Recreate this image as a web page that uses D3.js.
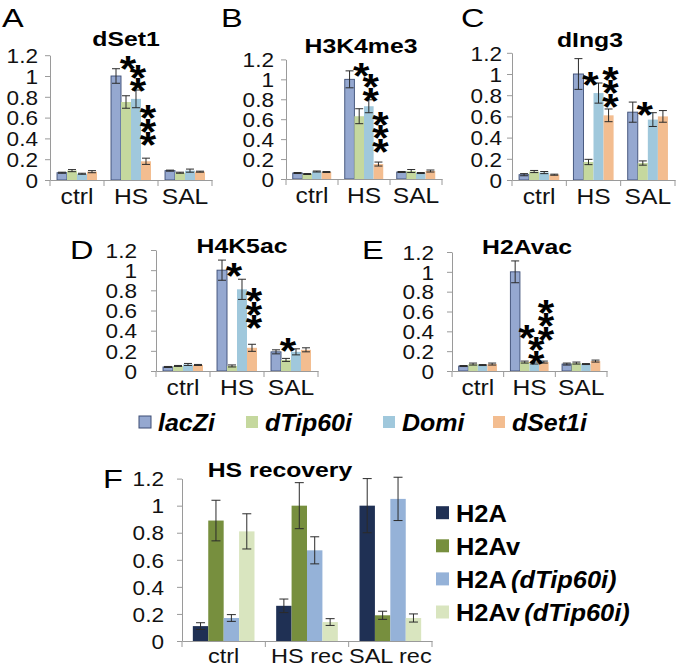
<!DOCTYPE html>
<html><head><meta charset="utf-8">
<script src="https://cdn.jsdelivr.net/npm/d3@7/dist/d3.min.js"></script>
<style>body{margin:0;background:#fff}</style>
</head><body>
<svg id="chart" width="680" height="668"></svg>
<script>
// ---------------- DATA ----------------
const categories = ["ctrl", "HS", "SAL"];
const seriesNames = ["lacZi", "dTip60i", "Domi", "dSet1i"];
const yTickValues = [0, 0.2, 0.4, 0.6, 0.8, 1, 1.2];

// values[category][series]
const dSet1Values = [[0.07, 0.09, 0.06, 0.08], [1.0, 0.75, 0.78, 0.18], [0.09, 0.07, 0.09, 0.08]];
const dSet1Errors = [[0.005, 0.01, 0.005, 0.01], [0.07, 0.06, 0.085, 0.03], [0.005, 0.005, 0.015, 0.005]];
const dSet1Stars = [
  { cat: "HS", series: "dTip60i", count: 1, top: 1.14 },
  { cat: "HS", series: "Domi", count: 2, top: 1.06 },
  { cat: "HS", series: "dSet1i", count: 3, top: 0.67 }
];

const h3k4Values = [[0.06, 0.05, 0.075, 0.07], [1.0, 0.63, 0.73, 0.15], [0.07, 0.08, 0.06, 0.08]];
const h3k4Errors = [[0.005, 0.005, 0.005, 0.005], [0.085, 0.075, 0.065, 0.02], [0.005, 0.015, 0.005, 0.01]];
const h3k4Stars = [
  { cat: "HS", series: "dTip60i", count: 1, top: 1.11 },
  { cat: "HS", series: "Domi", count: 2, top: 1.0 },
  { cat: "HS", series: "dSet1i", count: 3, top: 0.625 }
];

const dIng3Values = [[0.05, 0.08, 0.07, 0.05], [1.0, 0.17, 0.82, 0.61], [0.64, 0.16, 0.57, 0.60]];
const dIng3Errors = [[0.01, 0.01, 0.01, 0.005], [0.145, 0.025, 0.095, 0.06], [0.095, 0.02, 0.065, 0.055]];
const dIng3Stars = [
  { cat: "HS", series: "dTip60i", count: 1, top: 0.97 },
  { cat: "HS", series: "dSet1i", count: 3, top: 1.02 },
  { cat: "SAL", series: "dTip60i", count: 1, top: 0.686 }
];

const h4k5Values = [[0.04, 0.05, 0.065, 0.06], [1.0, 0.05, 0.81, 0.23], [0.19, 0.11, 0.19, 0.21]];
const h4k5Errors = [[0.005, 0.005, 0.01, 0.005], [0.1, 0.01, 0.1, 0.035], [0.02, 0.015, 0.03, 0.02]];
const h4k5Stars = [
  { cat: "HS", series: "dTip60i", count: 1, top: 1.02 },
  { cat: "HS", series: "dSet1i", count: 3, top: 0.77 },
  { cat: "SAL", series: "dTip60i", count: 1, top: 0.275 }
];

const h2avacValues = [[0.05, 0.07, 0.06, 0.07], [1.0, 0.09, 0.08, 0.09], [0.07, 0.08, 0.07, 0.10]];
const h2avacErrors = [[0.005, 0.01, 0.005, 0.01], [0.11, 0.01, 0.01, 0.01], [0.01, 0.01, 0.005, 0.01]];
const h2avacStars = [
  { cat: "HS", series: "dTip60i", count: 1, top: 0.41 },
  { cat: "HS", series: "Domi", count: 2, top: 0.29 },
  { cat: "HS", series: "dSet1i", count: 3, top: 0.67 }
];

const recoveryCategories = ["ctrl", "HS rec", "SAL rec"];
const recoverySeries = ["H2A", "H2Av", "H2A (dTip60i)", "H2Av (dTip60i)"];
// values[category][series]
const recoveryValues = [[0.11, 0.89, 0.17, 0.81], [0.26, 1.0, 0.67, 0.14], [1.0, 0.19, 1.05, 0.17]];
const recoveryErrors = [[0.025, 0.15, 0.025, 0.13], [0.05, 0.17, 0.1, 0.025], [0.2, 0.03, 0.16, 0.03]];

// ---------------- STYLE / LAYOUT ----------------
const FONT = "'Liberation Sans', Arial, Helvetica, sans-serif";
const topColors = ["#95a8d0", "#c5d89e", "#a0c8dc", "#f3bd90"];
const recColors = ["#1f3054", "#778f3e", "#95b2d8", "#d9e5bf"];
const svg = d3.select("#chart");

function addText(parent, x, y, str, o) {
  return parent.append("text")
    .attr("transform", `translate(${x},${y}) scale(${o.sx || 1},1)`)
    .attr("text-anchor", o.anchor || "start")
    .style("font-family", FONT)
    .style("font-size", o.size + "px")
    .style("font-weight", o.weight || "normal")
    .style("font-style", o.style || "normal")
    .attr("fill", o.fill || "#111")
    .text(str);
}

function drawPanel(p) {
  const g = svg.append("g");
  const y = d3.scaleLinear().domain([0, 1.2]).range([p.yBot, p.yTop]);
  const x0 = d3.scaleBand().domain(p.cats).range([p.xL, p.xR]).padding(0);
  const step = x0.step();
  const x1 = d3.scaleBand().domain(p.series).range([step * p.pad, step * (1 - p.pad)]).padding(0);
  const bw = x1.bandwidth();
  const color = d3.scaleOrdinal().domain(p.series).range(p.colors);

  // bars
  p.cats.forEach((c, ci) => {
    const cg = g.append("g").attr("transform", `translate(${x0(c)},0)`);
    p.series.forEach((s, si) => {
      const v = p.values[ci][si];
      cg.append("rect")
        .attr("x", x1(s)).attr("y", y(v))
        .attr("width", bw).attr("height", y(0) - y(v))
        .attr("fill", color(s))
        .attr("stroke", p.outline && si === 0 ? "#3c4d75" : "none")
        .attr("stroke-width", 0.9);
    });
    // error bars
    p.series.forEach((s, si) => {
      const v = p.values[ci][si], e = p.errors[ci][si];
      const cx = x1(s) + bw / 2, hw = p.capW / 2;
      const eg = cg.append("g").attr("stroke", "#2b2b2b").attr("stroke-width", 1);
      eg.append("line").attr("x1", cx).attr("x2", cx).attr("y1", y(v - e)).attr("y2", y(v + e));
      eg.append("line").attr("x1", cx - hw).attr("x2", cx + hw).attr("y1", y(v - e)).attr("y2", y(v - e));
      eg.append("line").attr("x1", cx - hw).attr("x2", cx + hw).attr("y1", y(v + e)).attr("y2", y(v + e));
    });
  });

  // y axis
  const ya = g.append("g").attr("transform", `translate(${p.xL},0)`)
    .call(d3.axisLeft(y).tickValues(yTickValues).tickSize(5).tickSizeOuter(0).tickFormat(d => String(d)));
  ya.select(".domain").attr("stroke", "#9a9a9a");
  ya.selectAll(".tick line").attr("stroke", "#9a9a9a");
  ya.selectAll(".tick text")
    .attr("x", -p.labelGap / p.tsx).attr("dy", "0.36em")
    .attr("transform", `scale(${p.tsx},1)`)
    .style("font-family", FONT).style("font-size", "20px").attr("fill", "#111");

  // x axis (labels at band centres, ticks at band boundaries)
  const xa = g.append("g").attr("transform", `translate(0,${p.yBot})`)
    .call(d3.axisBottom(x0).tickSize(0).tickSizeOuter(0));
  xa.select(".domain").attr("stroke", "#9a9a9a");
  xa.selectAll(".tick text")
    .attr("y", 0).attr("dy", 0)
    .attr("transform", `translate(0,${p.catOff}) scale(${p.csx},1)`)
    .style("font-family", FONT).style("font-size", p.catSize + "px").attr("fill", "#111");
  const bounds = p.cats.map(c => x0(c)).concat([x0(p.cats[p.cats.length - 1]) + step]);
  xa.selectAll(".bound").data(bounds).enter().append("line")
    .attr("x1", d => d).attr("x2", d => d).attr("y1", 0).attr("y2", 6)
    .attr("stroke", "#9a9a9a");

  // significance stars: one text per column, stacked with tspans
  (p.stars || []).forEach(st => {
    const cx = x0(st.cat) + x1(st.series) + bw / 2 + 2;
    const t = g.append("text")
      .attr("transform", `translate(${cx},${y(st.top) + 21}) scale(1.14,1)`)
      .attr("text-anchor", "middle")
      .style("font-family", FONT).style("font-size", "37px").style("font-weight", "bold")
      .attr("fill", "#000");
    for (let k = 0; k < st.count; k++) {
      t.append("tspan").attr("x", 0).attr("dy", k === 0 ? 0 : 13.5).text("*");
    }
  });

  // title & letter
  addText(g, p.titleX, p.titleY, p.title, { size: 21, weight: "bold", anchor: "middle", sx: 1.18, fill: "#000" });
  addText(g, p.letterX, p.letterY, p.letter, { size: 26, anchor: "start", sx: 1.25, fill: "#000" });
}

const common = { cats: categories, series: seriesNames, colors: topColors, pad: 0.13, outline: true, tsx: 1.13, csx: 1.12, catOff: 24, catSize: 22 };
drawPanel(Object.assign({}, common, { values: dSet1Values, errors: dSet1Errors, stars: dSet1Stars, title: "dSet1", letter: "A",
  xL: 50, xR: 212, yTop: 55.2, yBot: 180, labelGap: 12, capW: 8, titleX: 126, titleY: 45.5, letterX: 2, letterY: 26.7 }));
drawPanel(Object.assign({}, common, { values: h3k4Values, errors: h3k4Errors, stars: h3k4Stars, title: "H3K4me3", letter: "B",
  xL: 286, xR: 442, yTop: 59.4, yBot: 179, labelGap: 12, capW: 8, titleX: 361, titleY: 53, letterX: 221, letterY: 26.7 }));
drawPanel(Object.assign({}, common, { values: dIng3Values, errors: dIng3Errors, stars: dIng3Stars, title: "dIng3", letter: "C",
  xL: 512, xR: 675, yTop: 52.8, yBot: 180, labelGap: 10, capW: 8, titleX: 590, titleY: 47, letterX: 461, letterY: 27 }));
drawPanel(Object.assign({}, common, { values: h4k5Values, errors: h4k5Errors, stars: h4k5Stars, title: "H4K5ac", letter: "D",
  xL: 156, xR: 318, yTop: 250, yBot: 371, labelGap: 19, capW: 8, titleX: 242, titleY: 253.3, letterX: 70, letterY: 259.3 }));
drawPanel(Object.assign({}, common, { values: h2avacValues, errors: h2avacErrors, stars: h2avacStars, title: "H2Avac", letter: "E",
  xL: 452, xR: 607, yTop: 252, yBot: 371, labelGap: 18, capW: 8, titleX: 527, titleY: 254, letterX: 362, letterY: 259.3 }));
drawPanel({ cats: recoveryCategories, series: recoverySeries, colors: recColors, pad: 0.13, outline: false, tsx: 1.13, csx: 1.12,
  catOff: 22, catSize: 21,
  values: recoveryValues, errors: recoveryErrors, stars: [], title: "HS recovery", letter: "F",
  xL: 182, xR: 432, yTop: 478.6, yBot: 641, labelGap: 18, capW: 9, titleX: 280, titleY: 477, letterX: 103, letterY: 488 });

// top legend
const legTop = svg.append("g");
const legTopX = [139, 246, 383, 493];
seriesNames.forEach((s, i) => {
  legTop.append("rect").attr("x", legTopX[i]).attr("y", 416).attr("width", 12).attr("height", 12)
    .attr("fill", topColors[i]).attr("stroke", i === 0 ? "#3c4d75" : "none");
  addText(legTop, legTopX[i] + 19, 431, s, { size: 24, weight: "bold", style: "italic", sx: 1.04, fill: "#000" });
});

// F legend
const legF = svg.append("g");
recoverySeries.forEach((s, i) => {
  const cy = 512.7 + i * 33.1;
  legF.append("rect").attr("x", 436).attr("y", cy - 6.5).attr("width", 13).attr("height", 13).attr("fill", recColors[i]);
  const parts = s.split(" (");
  const t = addText(legF, 456, cy + 9, parts[0], { size: 24, weight: "bold", sx: 1.06, fill: "#000" });
  if (parts.length > 1) {
    t.append("tspan").attr("dx", 4).style("font-style", "italic").text("(" + parts[1]);
  }
});
</script>
</body></html>
